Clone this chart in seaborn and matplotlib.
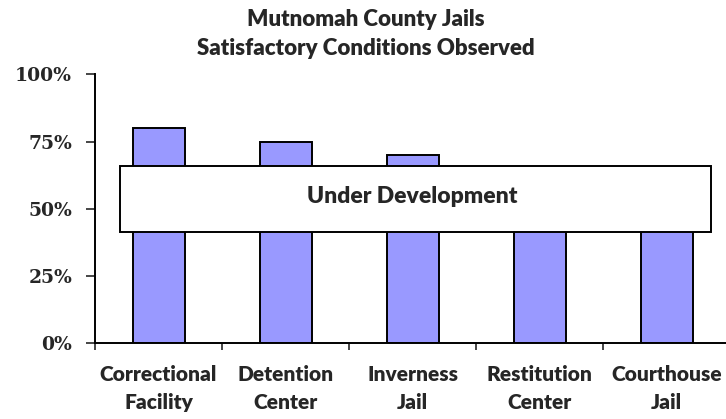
import matplotlib
matplotlib.use("Agg")
import matplotlib.pyplot as plt
import seaborn as sns
from matplotlib.patches import Rectangle

# --- Data ---
facilities = ["Correctional\nFacility", "Detention\nCenter", "Inverness\nJail",
              "Restitution\nCenter", "Courthouse\nJail"]
satisfactory = [0.80, 0.75, 0.70, 0.60, 0.60]
y_ticks = [0, 0.25, 0.50, 0.75, 1.00]
y_labels = ["0%", "25%", "50%", "75%", "100%"]

sns.set_style("white")
plt.rcParams["font.family"] = ["Lato", "DejaVu Sans"]

fig = plt.figure(figsize=(7.26, 4.19), dpi=100)
ax = fig.add_axes([0.1309, 0.1814, 0.8747, 0.6408])

sns.barplot(x=facilities, y=satisfactory, color="#9999ff", saturation=1,
            width=0.41, edgecolor="black", linewidth=1.4, ax=ax)

# "Under Development" overlay box
ax.add_patch(Rectangle((-0.303, 0.415), 4.653, 0.246, facecolor="white",
                       edgecolor="black", linewidth=1.4, zorder=5))
ax.text(2.0, 0.545, "Under Development", ha="center", va="center",
        fontsize=16.5, fontweight="heavy", zorder=6)

ax.set_xlim(-0.5, 4.5)
ax.set_ylim(0, 1)
ax.set_yticks(y_ticks)
ax.set_yticklabels(y_labels, fontfamily=["DejaVu Serif"], fontweight="bold", fontsize=13.5)
ax.set_xticks([i - 0.5 for i in range(len(facilities))], minor=True)
ax.set_xticks(range(len(facilities)))
ax.set_xticklabels(facilities, fontweight="heavy", fontsize=15, linespacing=1.55)
ax.tick_params(axis="x", which="major", length=0, pad=16)
ax.tick_params(axis="x", which="minor", length=5, width=1.2, direction="out", bottom=True)
ax.tick_params(axis="y", length=6.5, width=1.2, direction="out", left=True, pad=10)

for side in ["top", "right"]:
    ax.spines[side].set_visible(False)
for side in ["left", "bottom"]:
    ax.spines[side].set_linewidth(1.4)
    ax.spines[side].set_color("black")

fig.text(0.504, 0.979, "Mutnomah County Jails\nSatisfactory Conditions Observed",
         ha="center", va="top", fontsize=16, fontweight="heavy", linespacing=1.5)

fig.savefig("out.png", dpi=100)
